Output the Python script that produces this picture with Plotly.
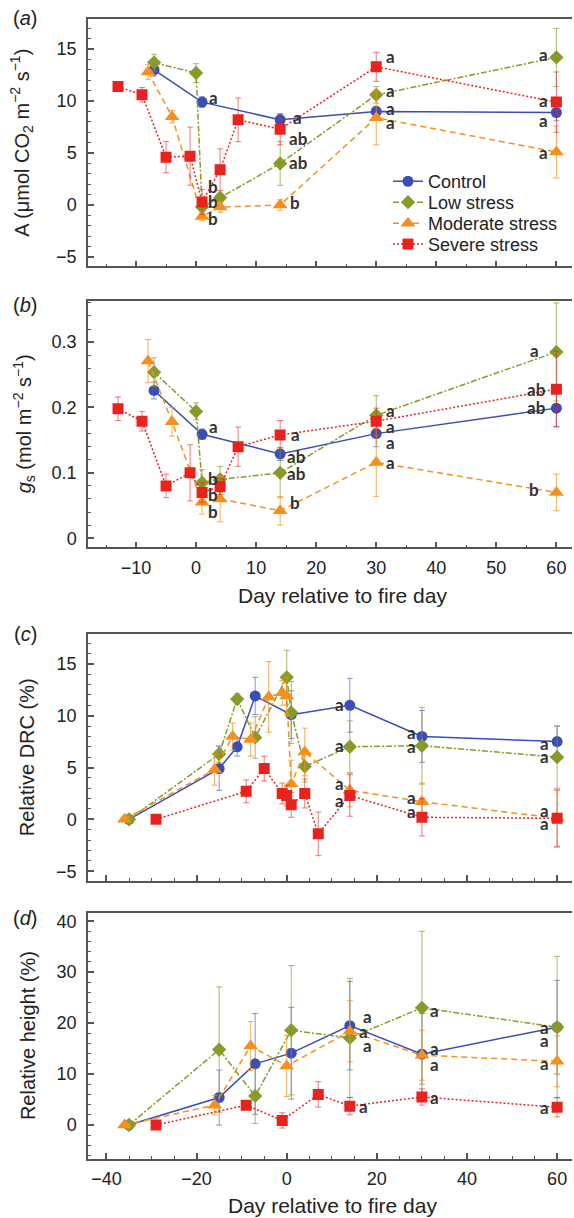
import plotly.graph_objects as go

# ---------------- DATA ----------------
# Panel (a): net photosynthesis A (umol CO2 m-2 s-1)
a_ctrl_day = [-7, 1, 14, 30, 60]
a_ctrl = [13.0, 9.9, 8.2, 9.0, 8.9]
a_ctrl_err = [0.6, 0.5, 0.5, 0.5, 0.8]
a_ctrl_let = ["", "a", "a", "a", "a"]

a_low_day = [-7, 0, 1, 4, 14, 30, 60]
a_low = [13.7, 12.7, -0.2, 0.7, 4.0, 10.6, 14.2]
a_low_err = [0.8, 0.9, 0.4, 0.4, 2.1, 0.8, 2.8]
a_low_let = ["", "", "b", "", "ab", "a", "a"]

a_mod_day = [-8, -4, 1, 4, 14, 30, 60]
a_mod = [12.8, 8.5, -1.1, -0.2, 0.0, 8.4, 5.1]
a_mod_err = [0.7, 0.6, 0.4, 0.5, 0.5, 2.6, 2.5]
a_mod_let = ["", "", "b", "", "b", "a", "a"]

a_sev_day = [-13, -9, -5, -1, 1, 4, 7, 14, 30, 60]
a_sev = [11.4, 10.6, 4.6, 4.7, 0.3, 3.4, 8.2, 7.3, 13.3, 9.9]
a_sev_err = [0.3, 0.7, 1.5, 2.8, 1.2, 2.0, 2.1, 1.5, 1.4, 2.9]
a_sev_let = ["", "", "", "", "b", "", "", "ab", "a", "a"]

# Panel (b): stomatal conductance gs (mol m-2 s-1)
b_ctrl_day = [-7, 1, 14, 30, 60]
b_ctrl = [0.226, 0.159, 0.129, 0.160, 0.199]
b_ctrl_err = [0.013, 0.008, 0.010, 0.020, 0.028]
b_ctrl_let = ["", "a", "ab", "a", "ab"]

b_low_day = [-7, 0, 1, 4, 14, 30, 60]
b_low = [0.254, 0.194, 0.085, 0.090, 0.100, 0.188, 0.285]
b_low_err = [0.022, 0.013, 0.020, 0.020, 0.038, 0.030, 0.075]
b_low_let = ["", "", "b", "", "ab", "a", "a"]

b_mod_day = [-8, -4, 1, 4, 14, 30, 60]
b_mod = [0.271, 0.178, 0.055, 0.060, 0.042, 0.116, 0.070]
b_mod_err = [0.033, 0.022, 0.018, 0.035, 0.022, 0.052, 0.028]
b_mod_let = ["", "", "b", "", "b", "a", "b"]

b_sev_day = [-13, -9, -5, -1, 1, 4, 7, 14, 30, 60]
b_sev = [0.198, 0.179, 0.080, 0.100, 0.070, 0.079, 0.140, 0.158, 0.179, 0.228]
b_sev_err = [0.018, 0.015, 0.018, 0.043, 0.015, 0.012, 0.030, 0.022, 0.020, 0.058]
b_sev_let = ["", "", "", "", "b", "", "", "a", "a", "ab"]

# Panel (c): relative DRC (%)
c_ctrl_day = [-35, -15, -11, -7, 1, 14, 30, 60]
c_ctrl = [0.0, 4.9, 7.0, 11.9, 10.1, 11.0, 8.0, 7.5]
c_ctrl_err = [0.0, 2.1, 0.9, 1.8, 2.3, 2.6, 2.5, 1.5]
c_ctrl_let = ["", "", "", "", "", "a", "a", "a"]

c_low_day = [-35, -15, -11, -7, 0, 1, 4, 14, 30, 60]
c_low = [0.0, 6.3, 11.6, 7.9, 13.7, 10.3, 5.1, 7.0, 7.1, 6.0]
c_low_err = [0.0, 0.8, 0.5, 2.0, 2.6, 3.0, 1.5, 2.5, 3.7, 3.0]
c_low_let = ["", "", "", "", "", "", "", "a", "a", "a"]

c_mod_day = [-36, -16, -12, -8, -4, -1, 0, 1, 4, 14, 30, 60]
c_mod = [0.0, 4.8, 8.0, 7.7, 11.8, 12.2, 11.9, 3.4, 6.5, 2.8, 1.7, 0.1]
c_mod_err = [0.0, 1.5, 1.3, 1.6, 3.4, 1.2, 1.8, 2.3, 2.3, 1.6, 1.8, 2.8]
c_mod_let = ["", "", "", "", "", "", "", "", "", "a", "a", "a"]

c_sev_day = [-29, -9, -5, -1, 0, 1, 4, 7, 14, 30, 60]
c_sev = [0.0, 2.7, 4.9, 2.5, 2.3, 1.4, 2.5, -1.4, 2.3, 0.2, 0.1]
c_sev_err = [0.0, 1.1, 1.2, 1.0, 1.0, 1.2, 1.4, 2.1, 2.0, 1.8, 2.7]
c_sev_let = ["", "", "", "", "", "", "", "", "a", "a", "a"]

# Panel (d): relative height (%)
d_ctrl_day = [-35, -15, -7, 1, 14, 30, 60]
d_ctrl = [0.0, 5.4, 12.0, 14.1, 19.5, 13.9, 19.2]
d_ctrl_err = [0.0, 5.4, 9.9, 9.0, 8.7, 8.0, 9.2]
d_ctrl_let = ["", "", "", "", "a", "a", "a"]

d_low_day = [-35, -15, -7, 1, 14, 30, 60]
d_low = [0.0, 14.8, 5.7, 18.6, 17.1, 23.0, 19.2]
d_low_err = [0.0, 12.3, 5.4, 12.7, 11.7, 15.0, 13.9]
d_low_let = ["", "", "", "", "a", "a", "a"]

d_mod_day = [-36, -16, -8, 0, 14, 30, 60]
d_mod = [0.0, 3.9, 15.5, 11.6, 18.4, 13.7, 12.5]
d_mod_err = [0.0, 1.9, 4.8, 6.0, 6.0, 4.9, 5.0]
d_mod_let = ["", "", "", "", "a", "a", "a"]

d_sev_day = [-29, -9, -1, 7, 14, 30, 60]
d_sev = [0.0, 3.9, 0.9, 6.0, 3.7, 5.5, 3.5]
d_sev_err = [0.0, 0.5, 1.5, 2.5, 1.7, 1.6, 1.9]
d_sev_let = ["", "", "", "", "a", "a", "a"]

series_names = ["Control", "Low stress", "Moderate stress", "Severe stress"]

# ---------------- STYLE ----------------
W, H = 574, 1218
COLORS = ["#3b4db6", "#8a9a2a", "#f5901e", "#e8221e"]
ERRCOL = ["rgba(59,77,182,0.6)", "rgba(138,154,42,0.7)", "rgba(245,144,30,0.75)", "rgba(232,34,30,0.6)"]
DASHES = ["solid", "6px,2px,2px,2px", "6px,4px", "2px,2px"]
SYMBOLS = ["circle", "diamond", "triangle-up", "square"]
SIZES = [11, 11, 13, 11]
FONT = "Liberation Sans, Arial, sans-serif"
LFONT = "Lato, Open Sans, sans-serif"
AXCOL = "#555555"
TXT = "#222222"

# panel pixel boxes (top, bottom)
PX_LEFT, PX_RIGHT = 88, 572
PANELS = [(17, 265), (300, 546.7), (633.3, 880.7), (913.3, 1160)]
LEGEND_ROWS_Y = [180, 201, 222, 243]
LEGEND_X = 388

# letter offsets (dx, dy in px) per panel per series, aligned with letter lists
OFFS = {
    0: [[None, (11, 5), (17, 2), (14, 3), (-13, -8)],
        [None, None, (11, 21), None, (18, 1), (14, 4), (-13, 3)],
        [None, None, (11, -2), None, (15, 3), (14, -5), (-13, 0)],
        [None] * 4 + [(11, 0), None, None, (18, -9), (14, 10), (-13, 2)]],
    1: [[None, (11, 8), (16, -3), (14, -9), (-20, 1)],
        [None, None, (11, 4), None, (16, -1), (14, 5), (-22, 1)],
        [None, None, (11, -9), None, (15, 8), (14, 0), (-22, 3)],
        [None] * 4 + [(11, -2), None, None, (15, 0), (14, -5), (-20, 0)]],
    2: [[None] * 5 + [(-10, 1), (-10, 4), (-13, -2)],
        [None] * 7 + [(-10, 1), (-10, -1), (-13, 1)],
        [None] * 9 + [(-10, 7), (-10, 4), (-13, 8)],
        [None] * 8 + [(-10, -5), (-10, 6), (-13, -5)]],
    3: [[None] * 4 + [(18, 9), (13, 6), (-13, 0)],
        [None] * 4 + [(18, -8), (13, -3), (-13, -13)],
        [None] * 4 + [(14, 0), (13, -9), (-13, -2)],
        [None] * 4 + [(14, 0), (13, -1), (-13, 0)]],
}

panel_data = [
    [(a_ctrl_day, a_ctrl, a_ctrl_err, a_ctrl_let), (a_low_day, a_low, a_low_err, a_low_let),
     (a_mod_day, a_mod, a_mod_err, a_mod_let), (a_sev_day, a_sev, a_sev_err, a_sev_let)],
    [(b_ctrl_day, b_ctrl, b_ctrl_err, b_ctrl_let), (b_low_day, b_low, b_low_err, b_low_let),
     (b_mod_day, b_mod, b_mod_err, b_mod_let), (b_sev_day, b_sev, b_sev_err, b_sev_let)],
    [(c_ctrl_day, c_ctrl, c_ctrl_err, c_ctrl_let), (c_low_day, c_low, c_low_err, c_low_let),
     (c_mod_day, c_mod, c_mod_err, c_mod_let), (c_sev_day, c_sev, c_sev_err, c_sev_let)],
    [(d_ctrl_day, d_ctrl, d_ctrl_err, d_ctrl_let), (d_low_day, d_low, d_low_err, d_low_let),
     (d_mod_day, d_mod, d_mod_err, d_mod_let), (d_sev_day, d_sev, d_sev_err, d_sev_let)],
]

legend_ids = ["legend", "legend2", "legend3", "legend4"]

fig = go.Figure()
annotations = []

for p, series in enumerate(panel_data):
    xa = "x" if p == 0 else f"x{p + 1}"
    ya = "y" if p == 0 else f"y{p + 1}"
    for s, (days, vals, errs, lets) in enumerate(series):
        fig.add_trace(go.Scatter(
            x=days, y=vals, mode="lines+markers", name=series_names[s],
            xaxis=xa, yaxis=ya, showlegend=(p == 0), legend=legend_ids[s],
            line=dict(color=COLORS[s], width=1.5, dash=DASHES[s]),
            marker=dict(symbol=SYMBOLS[s], size=SIZES[s], color=COLORS[s], line=dict(width=0)),
            error_y=dict(type="data", array=errs, color=ERRCOL[s], thickness=1, width=3),
        ))
        for i, lt in enumerate(lets):
            if lt:
                dx, dy = OFFS[p][s][i]
                annotations.append(dict(
                    x=days[i], y=vals[i], xref=xa, yref=ya, text=lt, showarrow=False,
                    xshift=dx, yshift=dy, xanchor="center", yanchor="middle",
                    font=dict(family=LFONT, size=17, color="#333333", weight=700)))

# ---------------- AXES ----------------
y_ranges = [[-5.9, 17.9], [-0.014, 0.3625], [-5.9, 17.9], [-6.7, 41.6]]
y_dticks = [5, 0.1, 5, 10]
y_minor = [1, 0.02, 1, 2]
x_ranges = [[-18, 62.6], [-18, 62.6], [-44.1, 63.3], [-44.1, 63.3]]
x_dticks = [10, 10, 20, 20]
x_minor = [5, 5, 5, 5]
show_xlabels = [False, True, False, True]

layout = dict(
    width=W, height=H, paper_bgcolor="white", plot_bgcolor="white",
    margin=dict(l=0, r=0, t=0, b=0),
    font=dict(family=FONT, size=18, color=TXT),
    showlegend=True,
)
for s, lid in enumerate(legend_ids):
    layout[lid] = dict(x=LEGEND_X / W, y=1 - LEGEND_ROWS_Y[s] / H, xanchor="left", yanchor="middle",
                       bgcolor="rgba(0,0,0,0)", font=dict(family=FONT, size=18, color=TXT),
                       itemwidth=30)

for p in range(4):
    top, bot = PANELS[p]
    xk = "xaxis" if p == 0 else f"xaxis{p + 1}"
    yk = "yaxis" if p == 0 else f"yaxis{p + 1}"
    ya = "y" if p == 0 else f"y{p + 1}"
    xa = "x" if p == 0 else f"x{p + 1}"
    layout[xk] = dict(
        domain=[PX_LEFT / W, PX_RIGHT / W], range=x_ranges[p], anchor=ya,
        tick0=0, dtick=x_dticks[p], ticks="inside", ticklen=6, tickwidth=1.5, tickcolor=AXCOL,
        minor=dict(dtick=x_minor[p], ticks="inside", ticklen=3, tickcolor=AXCOL, tickwidth=1),
        showline=True, linecolor=AXCOL, linewidth=1.5, mirror=True,
        showgrid=False, zeroline=False, showticklabels=show_xlabels[p],
        tickfont=dict(family=FONT, size=18, color=TXT), ticklabelstandoff=3,
    )
    layout[yk] = dict(
        domain=[1 - bot / H, 1 - top / H], range=y_ranges[p], anchor=xa,
        tick0=0, dtick=y_dticks[p], ticks="inside", ticklen=6, tickwidth=1.5, tickcolor=AXCOL,
        minor=dict(dtick=y_minor[p], ticks="inside", ticklen=3, tickcolor=AXCOL, tickwidth=1),
        showline=True, linecolor=AXCOL, linewidth=1.5, mirror=False,
        showgrid=False, zeroline=False,
        tickfont=dict(family=FONT, size=18, color=TXT), ticklabelstandoff=6,
    )

# titles and panel labels
y_titles = ["A (μmol CO<sub>2</sub> m<sup>−2</sup> s<sup>−1</sup>)",
            "<i>g</i><sub>s</sub> (mol m<sup>−2</sup> s<sup>−1</sup>)",
            "Relative DRC (%)", "Relative height (%)"]
y_title_x = [22, 24, 27, 28]
panel_labels = ["(<i>a</i>)", "(<i>b</i>)", "(<i>c</i>)", "(<i>d</i>)"]
panel_label_y = [16, 304, 634, 918]
for p in range(4):
    top, bot = PANELS[p]
    annotations.append(dict(x=y_title_x[p] / W, y=1 - (top + bot) / 2 / H, xref="paper", yref="paper",
                            text=y_titles[p], textangle=-90, showarrow=False,
                            xanchor="center", yanchor="middle",
                            font=dict(family=FONT, size=20, color=TXT)))
    annotations.append(dict(x=25 / W, y=1 - panel_label_y[p] / H, xref="paper", yref="paper",
                            text=panel_labels[p], showarrow=False, xanchor="center", yanchor="middle",
                            font=dict(family=FONT, size=20, color=TXT)))

x_title = "Day relative to fire day"
annotations.append(dict(x=342 / W, y=1 - 595 / H, xref="paper", yref="paper", text=x_title,
                        showarrow=False, xanchor="center", yanchor="middle",
                        font=dict(family=FONT, size=21, color=TXT)))
annotations.append(dict(x=332 / W, y=1 - 1206 / H, xref="paper", yref="paper", text=x_title,
                        showarrow=False, xanchor="center", yanchor="middle",
                        font=dict(family=FONT, size=21, color=TXT)))

layout["annotations"] = annotations
fig.update_layout(**layout)
fig.write_html("out.html", config={"displayModeBar": False},
               post_script="document.body.style.margin='0';document.body.style.overflow='hidden';")
